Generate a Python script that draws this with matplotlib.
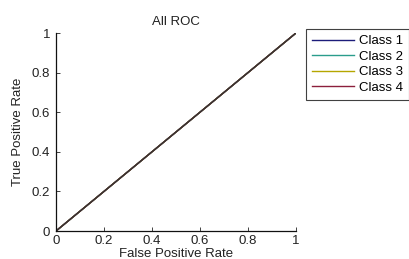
import matplotlib
matplotlib.use("Agg")
import matplotlib.pyplot as plt

plt.rcParams['font.family'] = ['Liberation Sans', 'DejaVu Sans']

fpr = [0.0, 1.0]
class_tpr = {
    "Class 1": [0.0, 1.0],
    "Class 2": [0.0, 1.0],
    "Class 3": [0.0, 1.0],
    "Class 4": [0.0, 1.0],
}
class_colors = ["#1c1c7a", "#2a9d8c", "#b5a600", "#8c1f3c"]
ref_x = [0.0, 1.0]
ref_y = [0.0, 1.0]
ticks = [0, 0.2, 0.4, 0.6, 0.8, 1]
tick_labels = ["0", "0.2", "0.4", "0.6", "0.8", "1"]

FS = 9.5
fig = plt.figure(figsize=(4.1, 2.59), dpi=100)
ax = fig.add_axes([56/410, 1-231/259, (296-56)/410, (231-33)/259])

handles = []
for (name, tpr), c in zip(class_tpr.items(), class_colors):
    h, = ax.plot(fpr, tpr, color=c, lw=1.0, label=name)
    handles.append(h)
ax.plot(ref_x, ref_y, color="#333333", lw=1.0)

ax.set_xlim(0, 1)
ax.set_ylim(0, 1)
ax.set_xticks(ticks)
ax.set_xticklabels(tick_labels)
ax.set_yticks(ticks)
ax.set_yticklabels(tick_labels)
ax.tick_params(direction='in', length=3, width=0.6, labelsize=FS, colors='#222222')
ax.tick_params(axis='y', pad=4.3)
ax.tick_params(axis='x', pad=3.0)
for s in ['top', 'right']:
    ax.spines[s].set_visible(False)
for s in ['left', 'bottom']:
    ax.spines[s].set_linewidth(0.9)
    ax.spines[s].set_color('#111111')

ax.set_title("All ROC", fontsize=FS, pad=6, color='#222222')
ax.set_xlabel("False Positive Rate", fontsize=FS, labelpad=0.5, color='#222222')
ax.set_ylabel("True Positive Rate", fontsize=FS, labelpad=5.5, color='#222222')

leg = fig.legend(handles=handles, loc='upper left', bbox_to_anchor=(306/410, 1-29/259),
                 bbox_transform=fig.transFigure, fontsize=FS, frameon=True, fancybox=False,
                 handlelength=3.2, handletextpad=0.4, labelspacing=0.25, borderpad=0.45,
                 borderaxespad=0)
leg.get_frame().set_edgecolor('#111111')
leg.get_frame().set_linewidth(0.8)

fig.savefig("out.png", dpi=100)
